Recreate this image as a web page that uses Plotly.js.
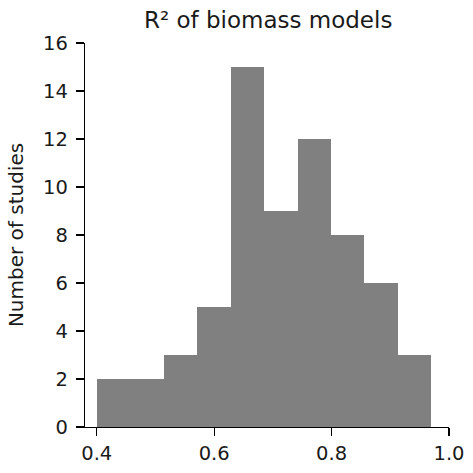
<!DOCTYPE html>
<html>
<head>
<meta charset="utf-8">
<script src="https://cdn.plot.ly/plotly-3.0.1.min.js"></script>
<style>
  html, body { margin: 0; padding: 0; background: #fff; }
  #chart { width: 473px; height: 473px; }
</style>
</head>
<body>
<div id="chart"></div>
<script>
// histogram of R² values
const binStart = 0.4;
const binWidth = 0.057;
const counts = [2, 2, 3, 5, 15, 9, 12, 8, 6, 3];
const xTicks = [0.4, 0.6, 0.8, 1.0];
const yTicks = [0, 2, 4, 6, 8, 10, 12, 14, 16];

const centers = counts.map((_, i) => binStart + binWidth * (i + 0.5));

const font = 'DejaVu Sans, sans-serif';
const axisCommon = {
    showline: true, linecolor: '#000', linewidth: 1.3,
    ticks: 'outside', ticklen: 8, tickwidth: 1.3, tickcolor: '#000',
    showgrid: false, zeroline: false,
    tickfont: { family: font, size: 19.5, color: '#1a1a1a' },
};

const traces = [{
    type: 'bar',
    x: centers, y: counts, width: binWidth,
    marker: { color: '#808080', line: { width: 0 } },
    hoverinfo: 'x+y',
}];

const layout = {
    width: 473, height: 473,
    paper_bgcolor: '#fff', plot_bgcolor: '#fff',
    margin: { l: 85, r: 24, t: 43, b: 46 },
    showlegend: false,
    bargap: 0,
    title: {
        text: 'R² of biomass models',
        font: { family: font, size: 23, color: '#1a1a1a' },
        x: 0.567, xanchor: 'center', y: 0.958, yanchor: 'middle',
    },
    xaxis: Object.assign({}, axisCommon, {
        range: [0.38, 1.0], tickvals: xTicks, ticktext: xTicks.map(v => v.toFixed(1)),
    }),
    yaxis: Object.assign({}, axisCommon, {
        range: [0, 16], tickvals: yTicks, ticklabelstandoff: 4,
        title: { text: 'Number of studies', font: { family: font, size: 20, color: '#1a1a1a' }, standoff: 14 },
    }),
};

Plotly.newPlot('chart', traces, layout, { displayModeBar: false, staticPlot: true });
</script>
</body>
</html>
